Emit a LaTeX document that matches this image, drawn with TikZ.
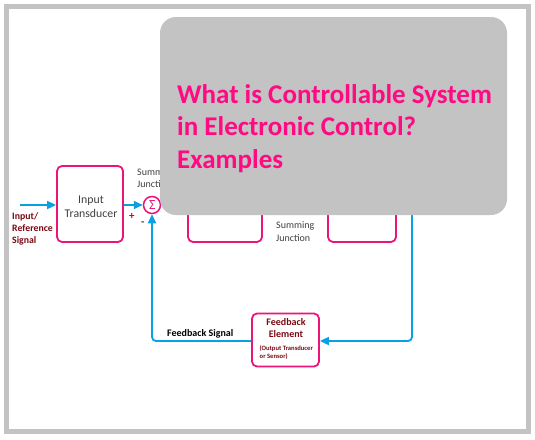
\documentclass[tikz,border=0pt]{standalone}
\usepackage{fontspec}
\setmainfont{Carlito}
\usetikzlibrary{arrows.meta}
\definecolor{framegray}{HTML}{C3C3C3}
\definecolor{boxpink}{HTML}{EC1479}
\definecolor{titlepink}{HTML}{FF0A82}
\definecolor{lineblue}{HTML}{0AA0E4}
\definecolor{darkred}{HTML}{7A0A14}
\definecolor{textgray}{HTML}{404040}
\tikzset{
  blk/.style={draw=boxpink, line width=1.8pt, rounded corners=5pt, fill=white, inner sep=0pt},
  sig/.style={draw=lineblue, line width=1.8pt, -{Triangle[length=9pt,width=8pt]}},
  lbl/.style={inner sep=0pt, anchor=base west},
  ttl/.style={inner sep=0pt, anchor=base west, text=titlepink, font=\fontsize{27}{30}\selectfont\bfseries},
}
\begin{document}
\begin{tikzpicture}[x=1pt,y=-1pt]
\useasboundingbox (0,0) rectangle (535,439);
\fill[white] (0,0) rectangle (535,439);
% frame
\draw[framegray, line width=5pt] (6.5,6.5) rectangle (528.5,431.5);

% blocks
\node[blk, minimum width=66pt, minimum height=76pt] (in) at (90,204) {};
\node[align=center, text=textgray, font=\fontsize{11.8}{13.5}\selectfont, inner sep=0pt] (intxt) at (91,207) {Input\\Transducer};
\node[blk, minimum width=74pt, minimum height=76pt] (b2) at (225,204) {};
\node[blk, minimum width=68pt, minimum height=76pt] (b3) at (362,204) {};
\node[draw=boxpink, circle, line width=1.5pt, minimum size=17pt, inner sep=0pt, fill=white] (sum) at (152,205) {};
\node[text=boxpink, inner sep=0pt, font=\fontsize{14}{14}\selectfont] (sigma) at (152.3,205.5) {Σ};
\node[blk, minimum width=67pt, minimum height=53pt] (fb) at (285.5,340) {};

% coordinates
\coordinate (src) at (20,205);
\coordinate (cl) at (152,341);
\coordinate (cr) at (412,341);
\coordinate (rtop) at (412,200);

% connectors
\draw[sig] (src) -- (in.west |- src);
\draw[sig] (in.east |- sum) -- (sum.west);
\draw[sig, rounded corners=4pt] (fb.west |- cl) -- (cl) -- (sum.south);
\draw[sig, rounded corners=4pt] (rtop) -- (cr) -- (fb.east |- cr);

% labels
\node[lbl, text=darkred, font=\fontsize{9.8}{9.8}\selectfont\bfseries] (l1) at (12,219) {Input/};
\node[lbl, text=darkred, font=\fontsize{9.8}{9.8}\selectfont\bfseries] (l2) at (12,231.5) {Reference};
\node[lbl, text=darkred, font=\fontsize{9.8}{9.8}\selectfont\bfseries] (l3) at (12,243.5) {Signal};
\node[lbl, text=textgray, font=\fontsize{10}{10}\selectfont] (s1) at (137,175) {Summing};
\node[lbl, text=textgray, font=\fontsize{10}{10}\selectfont] (s2) at (137,187) {Junction};
\node[lbl, text=textgray, font=\fontsize{10}{10}\selectfont] (s3) at (276,228) {Summing};
\node[lbl, text=textgray, font=\fontsize{10}{10}\selectfont] (s4) at (276,241) {Junction};
\node[lbl, text=red!90!black, font=\fontsize{11}{11}\selectfont\bfseries] (plus) at (129,219) {+};
\node[lbl, text=textgray, font=\fontsize{11}{11}\selectfont\bfseries] (minus) at (141,225) {-};
\node[lbl, text=black, font=\fontsize{10}{10}\selectfont\bfseries] (fbs) at (167,336) {Feedback Signal};
\node[inner sep=0pt, anchor=base, text=darkred, font=\fontsize{10}{10}\selectfont\bfseries] (f1) at (286,325) {Feedback};
\node[inner sep=0pt, anchor=base, text=darkred, font=\fontsize{10}{10}\selectfont\bfseries] (f2) at (286,337.5) {Element};
\node[lbl, text=darkred, font=\fontsize{6.6}{6.6}\selectfont\bfseries] (f3) at (259.5,350) {(Output Transducer};
\node[lbl, text=darkred, font=\fontsize{6.6}{6.6}\selectfont\bfseries] (f4) at (259.5,358.5) {or Sensor)};

% overlay title box
\node[fill=framegray, rounded corners=16pt, minimum width=347pt, minimum height=198pt, inner sep=0pt] (cover) at (333.5,116) {};
\node[ttl] (t1) at (177,103) {What is Controllable System};
\node[ttl] (t2) at (177,135.5) {in Electronic Control?};
\node[ttl] (t3) at (177,168) {Examples};
\end{tikzpicture}
\end{document}
